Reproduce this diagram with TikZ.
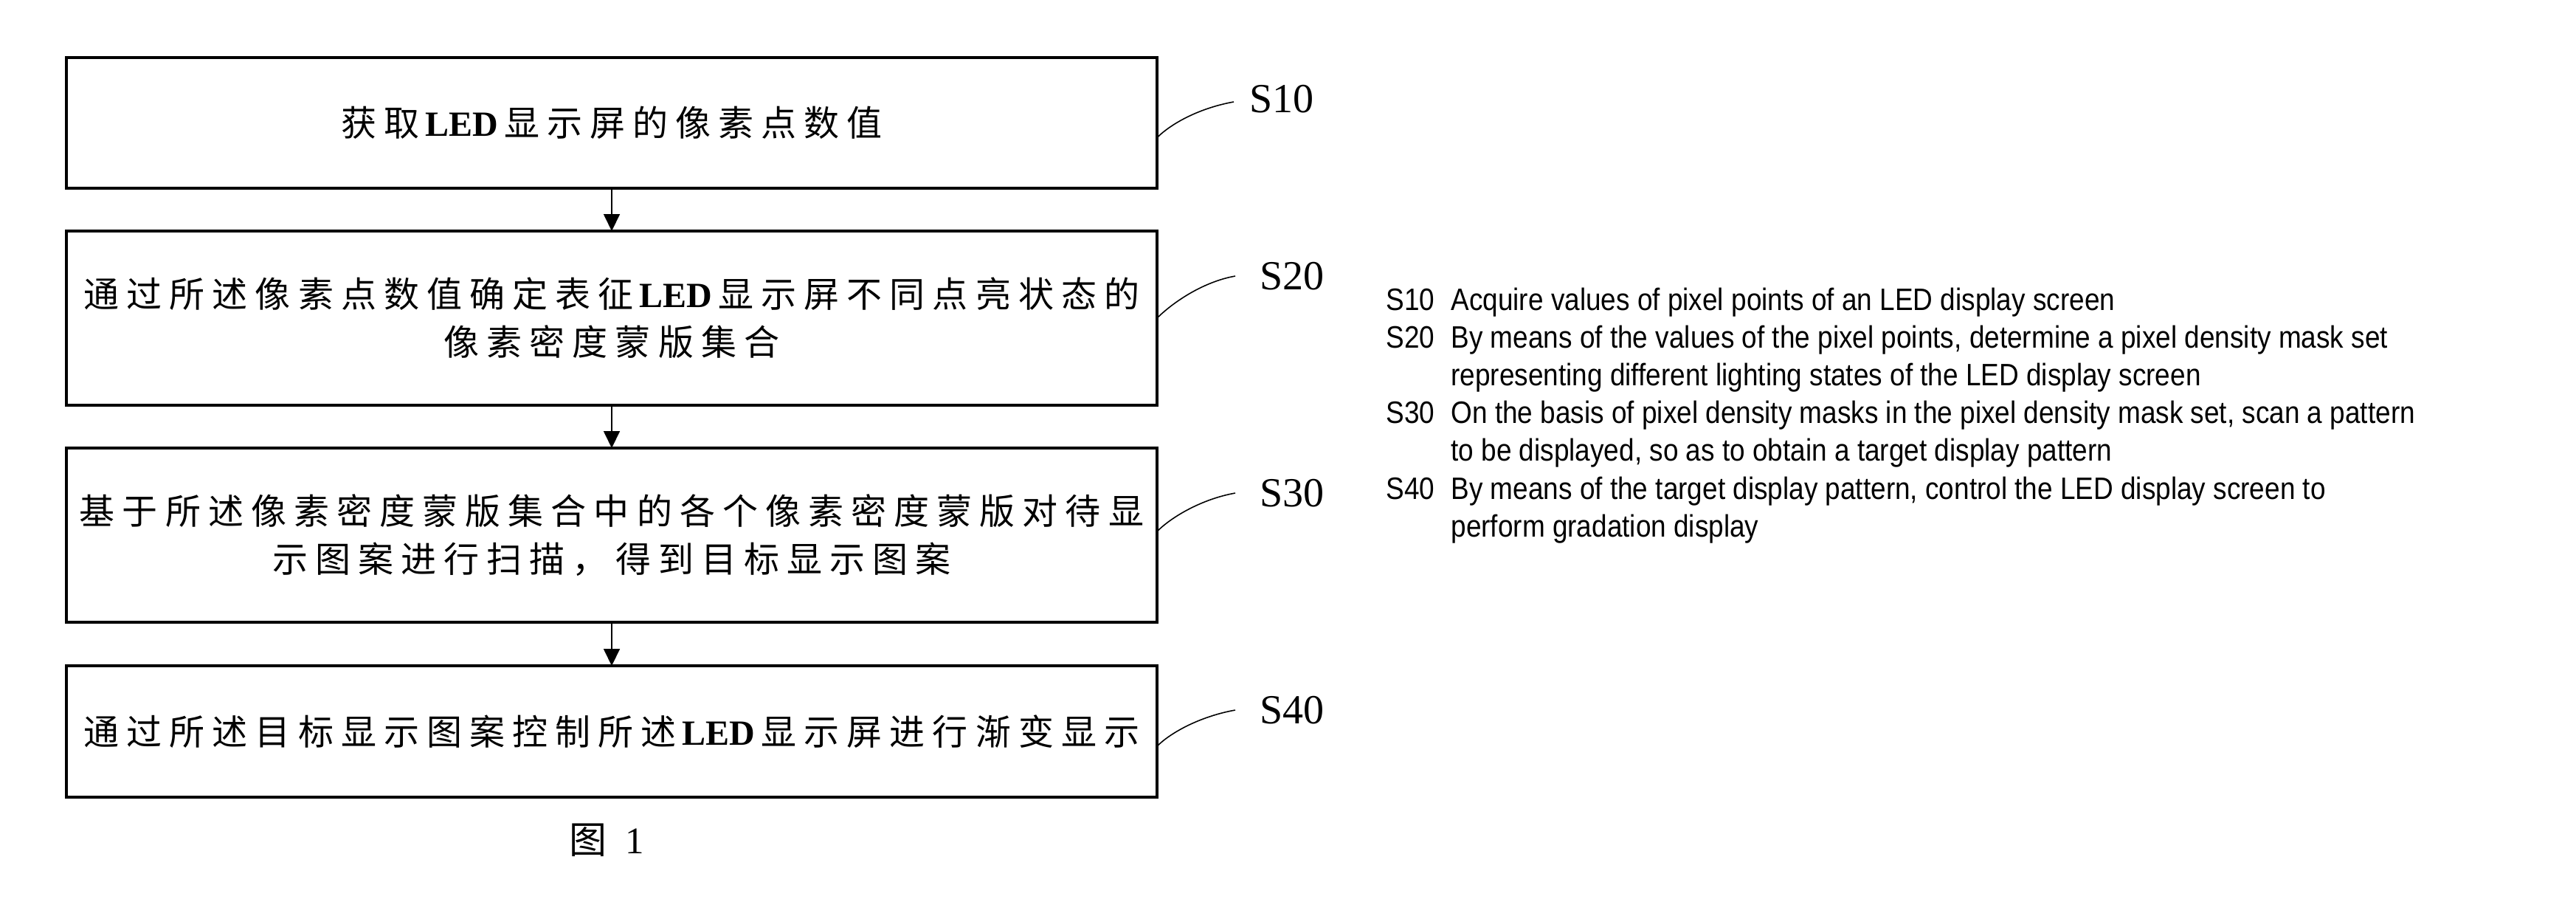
\documentclass[tikz,border=0pt]{standalone}
\usepackage{fontspec}
\setmainfont{Liberation Serif}
\newfontfamily\cjk[LetterSpace=21]{Noto Sans CJK SC}
\newfontfamily\cjkfig{Noto Sans CJK SC}
\newfontfamily\entext[FakeStretch=0.88]{Liberation Sans}
\newcommand{\led}{{\rmfamily\bfseries\,LED\,}}
\usepackage{tikz}
\usetikzlibrary{arrows.meta, positioning, calc}
\tikzstyle{arrow} = [line width=0.5pt,-{Triangle[width=0.22cm,length=0.23cm]}]
\tikzstyle{stepbox} = [draw, rectangle, line width=0.9pt, minimum width=14.78cm, inner sep=0pt, outer sep=0pt, align=center, font=\cjk\fontsize{13.66pt}{18.4pt}\selectfont]
\tikzstyle{leader} = [line width=0.45pt]
\tikzstyle{steplabel} = [anchor=west, inner sep=0pt, font=\fontsize{15.94pt}{19pt}\selectfont]

\begin{document}
\begin{tikzpicture}[node distance=0.58cm]
\useasboundingbox (0,0) rectangle (34.91,-12.40);
% Nodes
\node (get) [stepbox, minimum height=1.77cm] at (8.29,-1.665) {获取\led 显示屏的像素点数值};
\node (mask) [stepbox, minimum height=2.36cm, below=of get] {通过所述像素点数值确定表征\led 显示屏不同点亮状态的\\像素密度蒙版集合};
\node (scan) [stepbox, minimum height=2.36cm, below=of mask] {基于所述像素密度蒙版集合中的各个像素密度蒙版对待显\\示图案进行扫描，得到目标显示图案};
\node (show) [stepbox, minimum height=1.78cm, below=0.59cm of scan] {通过所述目标显示图案控制所述\led 显示屏进行渐变显示};
\node (fig) [font=\fontsize{14.5pt}{17pt}\selectfont] at (8.22,-11.38) {{\cjkfig 图}\enspace 1};

% Step labels
\node (s10) [steplabel] at (16.93,-1.34) {S10};
\node (s20) [steplabel] at (17.07,-3.74) {S20};
\node (s30) [steplabel] at (17.07,-6.68) {S30};
\node (s40) [steplabel] at (17.07,-9.62) {S40};
\coordinate (e10) at (16.72,-1.38);
\coordinate (e20) at (16.74,-3.74);
\coordinate (e30) at (16.74,-6.68);
\coordinate (e40) at (16.74,-9.62);

% Legend
\node (legend) [anchor=base west, inner sep=0pt, font=\entext\fontsize{11.95pt}{14.57pt}\selectfont] at (18.78,-4.20) {%
\begin{tabular}[t]{@{}l@{\hspace{0.22cm}}l@{}}
S10 & Acquire values of pixel points of an LED display screen\\
S20 & By means of the values of the pixel points, determine a pixel density mask set\\
 & representing different lighting states of the LED display screen\\
S30 & On the basis of pixel density masks in the pixel density mask set, scan a pattern\\
 & to be displayed, so as to obtain a target display pattern\\
S40 & By means of the target display pattern, control the LED display screen to\\
 & perform gradation display
\end{tabular}};

% Edges
\draw [arrow] (get) -- (mask);
\draw [arrow] (mask) -- (scan);
\draw [arrow] (scan) -- (show);
\draw [leader] ($(get.east)+(0,-0.2)$) .. controls +(0.2,0.2) and +(-0.45,-0.08) .. (e10);
\draw [leader] (mask.east) .. controls +(0.2,0.2) and +(-0.45,-0.08) .. (e20);
\draw [leader] ($(scan.east)+(0,0.05)$) .. controls +(0.2,0.2) and +(-0.45,-0.08) .. (e30);
\draw [leader] ($(show.east)+(0,-0.2)$) .. controls +(0.2,0.2) and +(-0.45,-0.08) .. (e40);
\end{tikzpicture}
\end{document}
